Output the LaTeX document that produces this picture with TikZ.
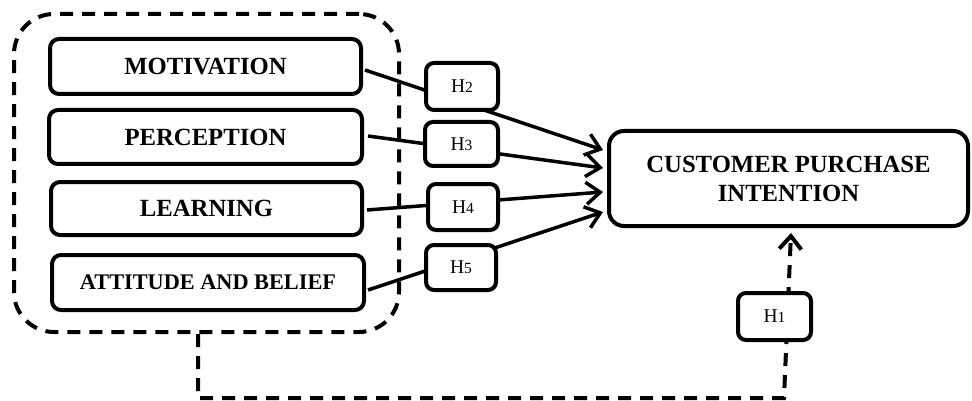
\documentclass[tikz,border=0pt]{standalone}
\usepackage{fontspec}
\setmainfont{Liberation Serif}
\usetikzlibrary{arrows.meta,calc}

\tikzset{
  factor/.style={draw, line width=4pt, rounded corners=9pt, fill=white,
    inner sep=0pt, font=\fontsize{24.7}{29}\selectfont\bfseries},
  hyp/.style={draw, line width=4pt, rounded corners=8pt, fill=white,
    inner sep=0pt, font=\fontsize{19.5}{21}\selectfont},
  link/.style={line width=3.5pt, -{Straight Barb[length=14pt,width=22pt]}},
  dlink/.style={line width=4pt, dash pattern=on 13pt off 9pt,
    -{Straight Barb[length=13pt,width=22pt]}},
  group/.style={draw, line width=4pt, dash pattern=on 13pt off 9pt,
    rounded corners=40pt, inner sep=0pt}
}
\newcommand{\hlabel}[1]{H{\fontsize{15.5}{17}\selectfont #1}}

\begin{document}
\begin{tikzpicture}[x=1pt,y=-1pt]
  \useasboundingbox (0,0) rectangle (972,401);

  % dashed grouping of the consumer factors
  \node[group, minimum width=385pt, minimum height=318pt] (grp) at (206.5,173) {};

  % consumer factors
  \node[factor, minimum width=311pt, minimum height=55pt] (mot) at (205.5,66.5) {MOTIVATION};
  \node[factor, minimum width=313pt, minimum height=54pt] (per) at (205.5,137) {PERCEPTION};
  \node[factor, minimum width=311pt, minimum height=53pt] (lea) at (206.5,208.5) {LEARNING};
  \node[factor, minimum width=312pt, minimum height=55pt,
        font=\fontsize{22.3}{26}\selectfont\bfseries] (att) at (208,282.5) {ATTITUDE AND BELIEF};

  % outcome
  \node[factor, minimum width=359pt, minimum height=95pt, rounded corners=15pt,
        align=center] (cpi) at (788.5,178.5) {CUSTOMER PURCHASE\\INTENTION};

  % arrow targets on the outcome box
  \coordinate (t2) at ($(cpi.west)+(-4,-28.5)$);
  \coordinate (t3) at ($(cpi.west)+(-4,-10.5)$);
  \coordinate (t4) at ($(cpi.west)+(-4,13.5)$);
  \coordinate (t5) at ($(cpi.west)+(-4,33.5)$);
  \coordinate (t1) at ($(cpi.south)+(2.5,5)$);

  % direct effects
  \draw[link] ($(mot.east)+(2,3.5)$) -- (t2);
  \draw[link] ($(per.east)+(4,-1)$) -- (t3);
  \draw[link] ($(lea.east)+(3,1.5)$) -- (t4);
  \draw[link] ($(att.east)+(2,7.5)$) -- (t5);

  % overall effect of the group
  \coordinate (gdrop) at ($(grp.south)+(-8.5,0)$);
  \coordinate (gcorner) at (784,398);
  \draw[dlink] (gdrop) -- (gdrop |- gcorner) -- (gcorner) -- (t1);

  % hypothesis labels
  \node[hyp, minimum width=72pt, minimum height=47pt] (h2) at (462,86.5) {\hlabel{2}};
  \node[hyp, minimum width=73pt, minimum height=44pt] (h3) at (461.5,144) {\hlabel{3}};
  \node[hyp, minimum width=70pt, minimum height=46pt] (h4) at (463,207) {\hlabel{4}};
  \node[hyp, minimum width=70pt, minimum height=45pt] (h5) at (461,267.5) {\hlabel{5}};
  \node[hyp, minimum width=73pt, minimum height=47pt] (h1) at (774.5,316.5) {\hlabel{1}};
\end{tikzpicture}
\end{document}
